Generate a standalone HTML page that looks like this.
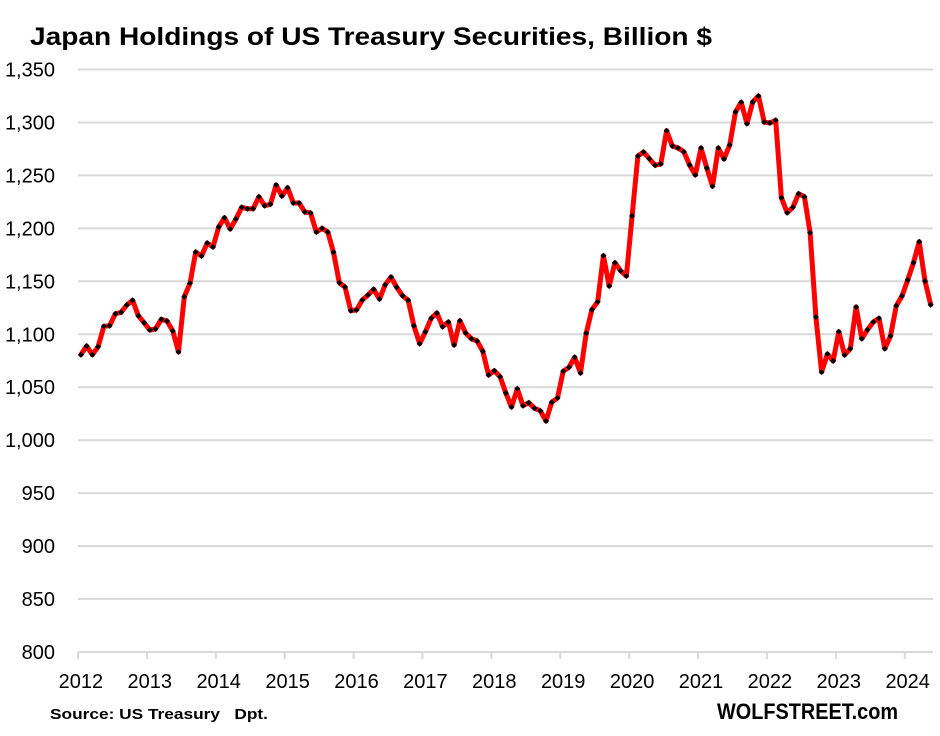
<!DOCTYPE html>
<html>
<head>
<meta charset="utf-8">
<style>
  html, body { margin: 0; padding: 0; background: #ffffff; }
  body { width: 940px; height: 736px; overflow: hidden; }
  svg { display: block; }
  text { font-family: "Liberation Sans", Arial, sans-serif; fill: #000; }
</style>
</head>
<body>
<svg width="940" height="736" viewBox="0 0 940 736" xmlns="http://www.w3.org/2000/svg">
  <defs>
    <marker id="dm" markerUnits="userSpaceOnUse" markerWidth="8" markerHeight="8" refX="0" refY="0" viewBox="-4 -4 8 8" overflow="visible">
      <path d="M0,-3 L3,0 L0,3 L-3,0 Z" fill="#000"/>
    </marker>
  </defs>

  <!-- Title -->
  <text x="30" y="45" font-size="25" font-weight="bold" textLength="682" lengthAdjust="spacingAndGlyphs">Japan Holdings of US Treasury Securities, Billion $</text>

  <!-- Gridlines -->
  <g stroke="#d9d9d9" stroke-width="2">
    <line x1="78" y1="69.5" x2="933" y2="69.5"/>
    <line x1="78" y1="122.5" x2="933" y2="122.5"/>
    <line x1="78" y1="175.4" x2="933" y2="175.4"/>
    <line x1="78" y1="228.4" x2="933" y2="228.4"/>
    <line x1="78" y1="281.3" x2="933" y2="281.3"/>
    <line x1="78" y1="334.3" x2="933" y2="334.3"/>
    <line x1="78" y1="387.2" x2="933" y2="387.2"/>
    <line x1="78" y1="440.2" x2="933" y2="440.2"/>
    <line x1="78" y1="493.1" x2="933" y2="493.1"/>
    <line x1="78" y1="546.1" x2="933" y2="546.1"/>
    <line x1="78" y1="599.0" x2="933" y2="599.0"/>
    <line x1="78" y1="652.0" x2="933" y2="652.0"/>
    <!-- ticks -->
    <line x1="78" y1="652" x2="78" y2="659"/>
    <line x1="146.9" y1="652" x2="146.9" y2="659"/>
    <line x1="215.8" y1="652" x2="215.8" y2="659"/>
    <line x1="284.7" y1="652" x2="284.7" y2="659"/>
    <line x1="353.6" y1="652" x2="353.6" y2="659"/>
    <line x1="422.5" y1="652" x2="422.5" y2="659"/>
    <line x1="491.4" y1="652" x2="491.4" y2="659"/>
    <line x1="560.3" y1="652" x2="560.3" y2="659"/>
    <line x1="629.2" y1="652" x2="629.2" y2="659"/>
    <line x1="698.1" y1="652" x2="698.1" y2="659"/>
    <line x1="767.0" y1="652" x2="767.0" y2="659"/>
    <line x1="835.9" y1="652" x2="835.9" y2="659"/>
    <line x1="904.8" y1="652" x2="904.8" y2="659"/>
  </g>

  <!-- Y labels -->
  <g font-size="20" text-anchor="end">
    <text x="55" y="76.5">1,350</text>
    <text x="55" y="129.5">1,300</text>
    <text x="55" y="182.4">1,250</text>
    <text x="55" y="235.4">1,200</text>
    <text x="55" y="288.3">1,150</text>
    <text x="55" y="341.3">1,100</text>
    <text x="55" y="394.2">1,050</text>
    <text x="55" y="447.2">1,000</text>
    <text x="55" y="500.1">950</text>
    <text x="55" y="553.1">900</text>
    <text x="55" y="606.0">850</text>
    <text x="55" y="659.0">800</text>
  </g>

  <!-- X labels -->
  <g font-size="20" text-anchor="middle">
    <text x="80.9" y="688">2012</text>
    <text x="149.8" y="688">2013</text>
    <text x="218.7" y="688">2014</text>
    <text x="287.6" y="688">2015</text>
    <text x="356.5" y="688">2016</text>
    <text x="425.4" y="688">2017</text>
    <text x="494.3" y="688">2018</text>
    <text x="563.2" y="688">2019</text>
    <text x="632.1" y="688">2020</text>
    <text x="701.0" y="688">2021</text>
    <text x="769.9" y="688">2022</text>
    <text x="838.8" y="688">2023</text>
    <text x="907.7" y="688">2024</text>
  </g>

  <!-- Series -->
  <polyline fill="none" stroke="#ff0000" stroke-width="5" stroke-linejoin="round" stroke-linecap="round"
    marker-start="url(#dm)" marker-mid="url(#dm)" marker-end="url(#dm)"
    points="
80.9,354.7 86.6,346.0 92.4,354.7 98.1,346.7 103.9,326.3 109.6,325.7 115.4,313.7 121.1,312.3 126.8,305.0 132.6,300.3
138.3,315.7 144.1,322.7 149.8,330.0 155.5,329.0 161.3,319.3 167.0,321.0 172.8,331.0 178.5,352.0 184.3,296.7 190.0,283.3
195.7,252.0 201.5,256.0 207.2,243.0 213.0,247.0 218.7,227.0 224.5,217.7 230.2,229.0 235.9,219.0 241.7,207.3 247.4,208.7
253.2,208.7 258.9,196.7 264.6,205.7 270.4,204.3 276.1,185.0 281.9,196.0 287.6,187.7 293.4,203.0 299.1,203.0 304.8,212.0
310.6,213.0 316.3,232.0 322.1,228.3 327.8,232.0 333.5,252.3 339.3,282.7 345.0,287.0 350.8,310.7 356.5,310.0 362.3,300.0
368.0,295.0 373.7,289.3 379.5,299.0 385.2,284.7 391.0,277.0 396.7,287.3 402.5,295.7 408.2,300.3 413.9,325.7 419.7,343.7
425.4,331.7 431.2,318.3 436.9,313.0 442.6,326.7 448.4,322.0 454.1,345.0 459.9,320.7 465.6,333.0 471.4,338.7 477.1,341.0
482.8,351.3 488.6,375.0 494.3,370.7 500.1,376.7 505.8,393.0 511.5,407.0 517.3,388.7 523.0,405.7 528.8,402.7 534.5,408.3
540.3,410.7 546.0,421.0 551.7,402.3 557.5,398.0 563.2,371.3 569.0,367.3 574.7,357.3 580.5,373.0 586.2,333.3 591.9,309.7
597.7,301.7 603.4,255.7 609.2,286.0 614.9,262.7 620.6,270.7 626.4,276.0 632.1,216.0 637.9,156.0 643.6,152.0 649.4,158.7
655.1,165.3 660.8,164.0 666.6,130.7 672.3,146.0 678.1,148.0 683.8,151.7 689.6,165.0 695.3,175.0 701.0,148.0 706.8,168.0
712.5,186.3 718.3,148.0 724.0,159.0 729.7,145.0 735.5,112.0 741.2,102.3 747.0,123.7 752.7,102.0 758.5,96.0 764.2,122.0
769.9,123.0 775.7,120.3 781.4,197.7 787.2,212.7 792.9,207.3 798.6,193.7 804.4,196.7 810.1,232.7 815.9,317.0 821.6,372.0
827.4,354.0 833.1,361.0 838.8,331.7 844.6,355.0 850.3,348.7 856.1,307.0 861.8,338.7 867.5,329.7 873.3,322.0 879.0,318.3
884.8,348.7 890.5,336.0 896.3,305.7 902.0,296.0 907.7,280.0 913.5,262.7 919.2,241.7 925.0,281.0 930.7,304.7"/>

  <!-- Footer -->
  <text x="50" y="719" font-size="15" font-weight="bold" textLength="218" lengthAdjust="spacingAndGlyphs" xml:space="preserve">Source: US Treasury   Dpt.</text>
  <text x="717" y="719" font-size="22" font-weight="bold" textLength="181" lengthAdjust="spacingAndGlyphs">WOLFSTREET.com</text>
</svg>
</body>
</html>
